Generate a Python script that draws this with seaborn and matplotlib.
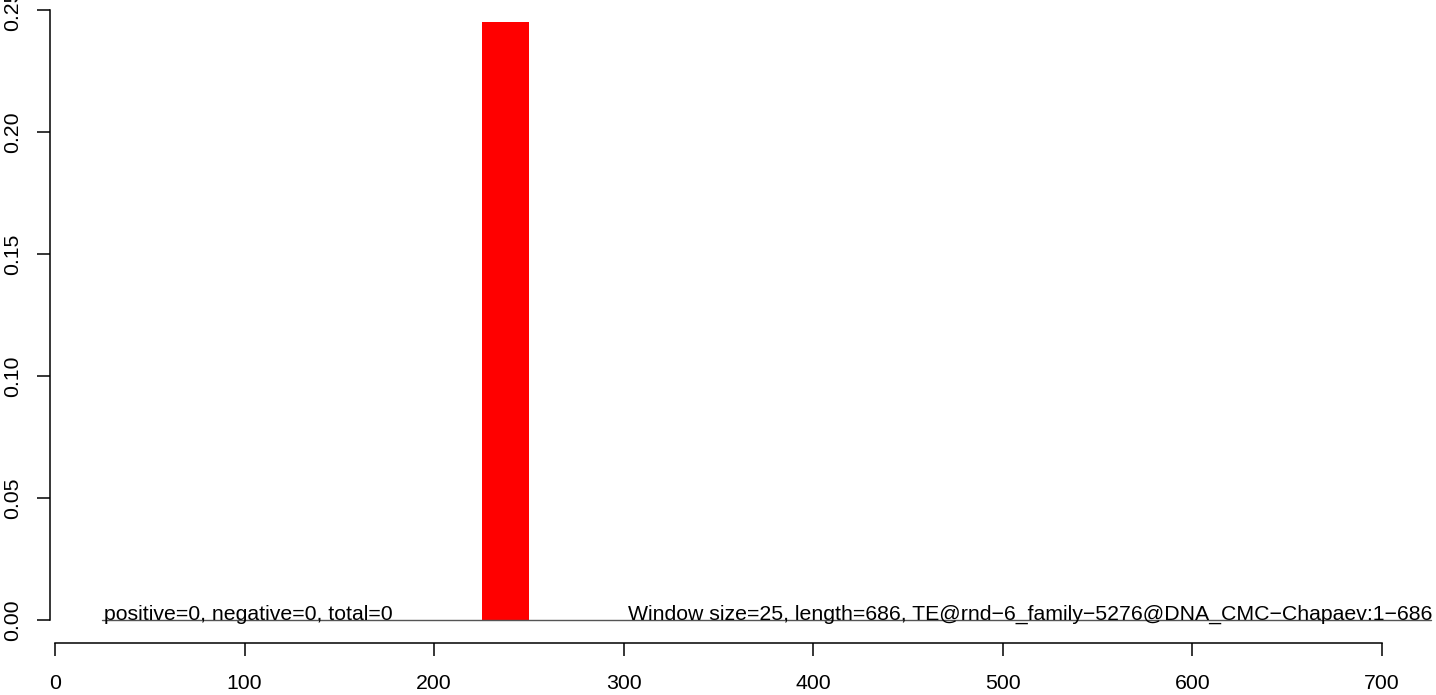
import matplotlib
matplotlib.use("Agg")
import matplotlib.pyplot as plt
import seaborn as sns
import pandas as pd

# ---- data ----
bin_edges = [225, 250]
bin_centers = [237.5]
bin_values = [0.245]
baseline_x = [25, 726]
baseline_y = [0, 0]
x_ticks = [0, 100, 200, 300, 400, 500, 600, 700]
y_ticks = [0.00, 0.05, 0.10, 0.15, 0.20, 0.25]
y_tick_labels = ["0.00", "0.05", "0.10", "0.15", "0.20", "0.25"]
left_note = "positive=0, negative=0, total=0"
right_note = "Window size=25, length=686, TE@rnd\u22126_family\u22125276@DNA_CMC\u2212Chapaev:1\u2212686"

sns.set_style("ticks")
plt.rcParams["font.family"] = ["Liberation Sans", "DejaVu Sans"]
plt.rcParams["text.color"] = "black"

FS = 15.3
PX = 0.72  # points per pixel at 100 dpi

W, H = 1436, 695
fig = plt.figure(figsize=(W / 100, H / 100), dpi=100)
ax = fig.add_axes([55 / W, (H - 620) / H, 1327 / W, 610 / H])

df = pd.DataFrame({"x": bin_centers, "w": bin_values})
sns.histplot(data=df, x="x", weights="w", bins=bin_edges, color="#FF0000",
             alpha=1, linewidth=0, ax=ax)

line_df = pd.DataFrame({"x": baseline_x, "y": baseline_y})
sns.lineplot(data=line_df, x="x", y="y", color="#555555", linewidth=1.0, ax=ax)
for l in ax.lines:
    l.set_clip_on(False)

ax.set_xlim(0, 700)
ax.set_ylim(0, 0.25)
ax.set_xlabel("")
ax.set_ylabel("")
ax.set_xticks(x_ticks)
ax.set_xticklabels([str(t) for t in x_ticks])
ax.set_yticks(y_ticks)
ax.set_yticklabels(y_tick_labels)

for s in ["top", "right"]:
    ax.spines[s].set_visible(False)
ax.spines["left"].set_position(("outward", 5 * PX))
ax.spines["bottom"].set_position(("outward", 23 * PX))
ax.spines["left"].set_bounds(0, 0.25)
ax.spines["bottom"].set_bounds(0, 700)
for s in ["left", "bottom"]:
    ax.spines[s].set_linewidth(1.1)
    ax.spines[s].set_color("black")
ax.tick_params(axis="both", length=13 * PX, width=1.1, color="black",
               labelsize=FS, labelcolor="black")
ax.tick_params(axis="x", pad=13)
ax.tick_params(axis="y", pad=10.5, labelrotation=90)
for lab in ax.get_yticklabels():
    lab.set_va("center")

ax.text(25.8, 0.0, left_note, ha="left", va="baseline", fontsize=FS,
        color="black", clip_on=False)
ax.text(726.4, 0.0, right_note, ha="right", va="baseline", fontsize=FS,
        color="black", clip_on=False)

fig.savefig("out.png", dpi=100, facecolor="white")
